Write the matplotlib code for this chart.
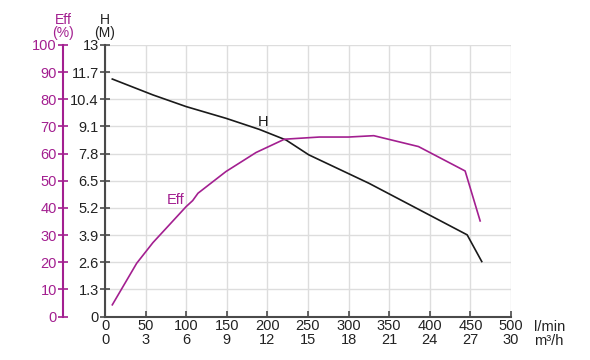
import numpy as np
import matplotlib.pyplot as plt

plt.rcParams['font.family'] = ['Liberation Sans', 'DejaVu Sans']

# flow (l/min) and head (m)
q_h = [9, 59, 100, 149, 190, 223, 251, 325, 446, 464]
head = [11.37, 10.61, 10.05, 9.49, 8.96, 8.45, 7.74, 6.38, 3.91, 2.63]

# flow (l/min) and efficiency (%)
q_eff = [9, 39, 59, 100, 108, 114.5, 149, 186, 221, 264, 300, 331, 386, 443.5, 462]
eff = [4.3, 19.6, 27.2, 40.5, 42.7, 45.4, 53.4, 60.4, 65.3, 66.1, 66.1, 66.6, 62.6, 53.6, 35.2]

lmin_ticks = [0, 50, 100, 150, 200, 250, 300, 350, 400, 450, 500]
m3h_labels = ['0', '3', '6', '9', '12', '15', '18', '21', '24', '27', '30']
h_ticks = [0, 1.3, 2.6, 3.9, 5.2, 6.5, 7.8, 9.1, 10.4, 11.7, 13]
h_labels = ['0', '1.3', '2.6', '3.9', '5.2', '6.5', '7.8', '9.1', '10.4', '11.7', '13']
eff_ticks = [0, 10, 20, 30, 40, 50, 60, 70, 80, 90, 100]

pink = '#a31f90'
spine = '#4a4a4a'
txt = '#222222'
fs = 10.5

fig = plt.figure(figsize=(5.9, 3.6), dpi=100)
ax = fig.add_axes([105/590, 1-316.5/360, 406/590, 271.5/360])

ax.plot(q_h, head, color='#1a1a1a', lw=1.2)
# efficiency is drawn on the head scale (100 % = 13 m)
ax.plot(q_eff, np.array(eff) * 13 / 100, color=pink, lw=1.2)

ax.text(195, 9.33, 'H', fontsize=fs, color='#1a1a1a', ha='center', va='center')
ax.text(87, 42.9 * 13 / 100, 'Eff', fontsize=fs, color=pink, ha='center', va='center')

ax.set_xlim(0, 500)
ax.set_ylim(0, 13)
ax.set_xticks(lmin_ticks)
ax.set_xticklabels([f'{a}\n{b}' for a, b in zip(lmin_ticks, m3h_labels)],
                   fontsize=fs, linespacing=0.95, color=txt)
ax.set_yticks(h_ticks)
ax.set_yticklabels(h_labels, fontsize=fs, color=txt)
ax.grid(True, color='#dddddd', lw=1)
ax.set_axisbelow(True)
for s in ['top', 'right']:
    ax.spines[s].set_visible(False)
for s in ['left', 'bottom']:
    ax.spines[s].set_color(spine)
    ax.spines[s].set_linewidth(1.5)
ax.tick_params(axis='x', direction='in', length=4, width=1.2, color=spine, pad=2)
ax.tick_params(axis='y', direction='inout', length=7, width=1.2, color=spine, pad=1)

sec = ax.secondary_yaxis(-42/406, functions=(lambda v: v * 100 / 13, lambda v: v * 13 / 100))
sec.set_yticks(eff_ticks)
sec.tick_params(direction='inout', length=7, width=1.2, colors=pink, labelsize=fs, pad=1)
sec.spines['left'].set_color(pink)
sec.spines['left'].set_linewidth(1.5)

hs = 10
fig.text(63/590, 1-20/360, 'Eff', color=pink, fontsize=hs, ha='center', va='center')
fig.text(63/590, 1-33/360, '(%)', color=pink, fontsize=hs, ha='center', va='center')
fig.text(105/590, 1-20/360, 'H', color=txt, fontsize=hs, ha='center', va='center')
fig.text(105/590, 1-33/360, '(M)', color=txt, fontsize=hs, ha='center', va='center')
fig.text(534/590, 1-327/360, 'l/min', fontsize=fs, color=txt, ha='left', va='center')
fig.text(534/590, 1-341/360, 'm³/h', fontsize=fs, color=txt, ha='left', va='center')

fig.savefig('out.png', dpi=100)
